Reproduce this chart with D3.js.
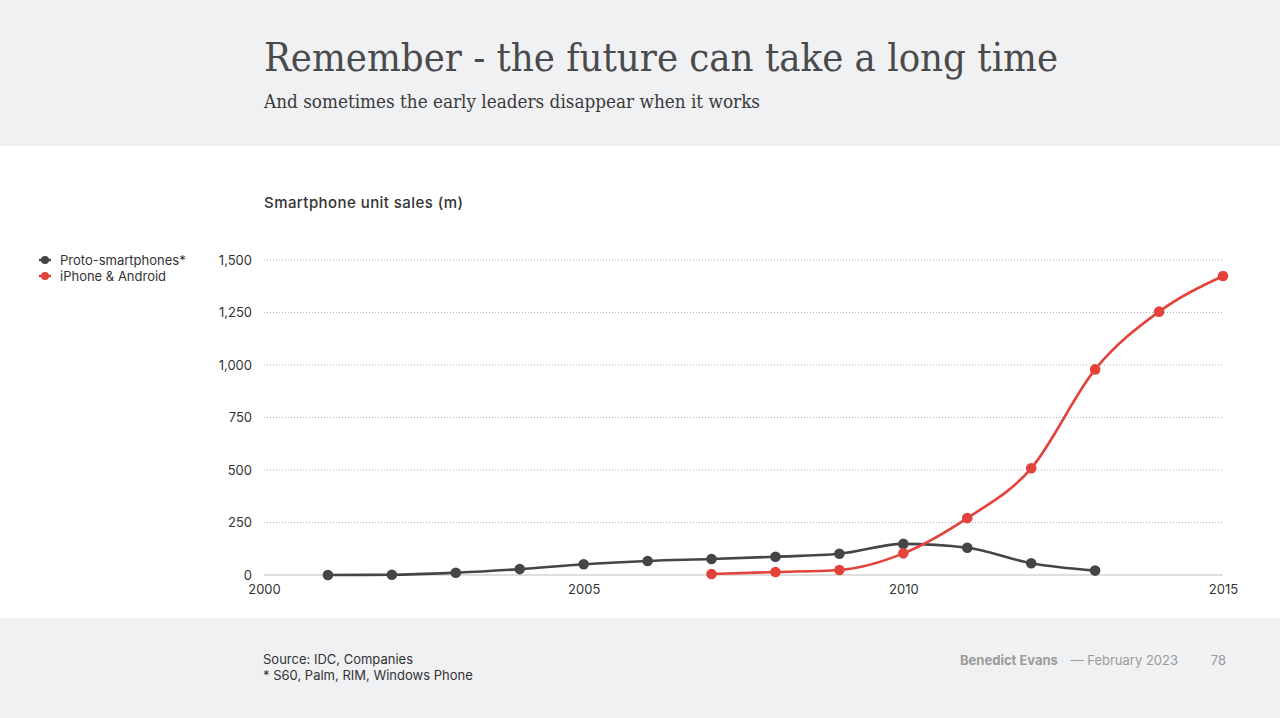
<!DOCTYPE html>
<html><head><meta charset="utf-8">
<script src="https://cdn.jsdelivr.net/npm/d3@7"></script>
<style>
html,body{margin:0;padding:0;background:#fff;}
svg{display:block;}
</style></head>
<body>
<svg id="c" width="1280" height="718"></svg>
<script>
const years = [2001,2002,2003,2004,2005,2006,2007,2008,2009,2010,2011,2012,2013,2014,2015];
const protoYears = [2001,2002,2003,2004,2005,2006,2007,2008,2009,2010,2011,2012,2013];
const protoValues = [0,1,11,28,51,67,76,87,101,148,130,56,21];
const modernYears = [2007,2008,2009,2010,2011,2012,2013,2014,2015];
const modernValues = [5,14,24,103,271,508,979,1254,1424];
const yTicks = [0,250,500,750,1000,1250,1500];
const xTicks = [2000,2005,2010,2015];
const seriesNames = ["Proto-smartphones*","iPhone & Android"];
const seriesColors = ["#444546","#e4433b"];

const svg = d3.select("#c");
const sans = "Inter, 'Noto Sans', 'Liberation Sans', sans-serif";
const serif = "'DejaVu Serif Condensed','DejaVu Serif', serif";

// backgrounds
svg.append("rect").attr("x",0).attr("y",0).attr("width",1280).attr("height",146).attr("fill","#f0f1f3");
svg.append("rect").attr("x",0).attr("y",618).attr("width",1280).attr("height",100).attr("fill","#f0f1f3");

svg.append("text").attr("x",264).attr("y",71).attr("font-family",serif).attr("font-size",39)
  .attr("fill","#4a4a4c").attr("textLength",794).attr("lengthAdjust","spacingAndGlyphs")
  .text("Remember - the future can take a long time");
svg.append("text").attr("x",264).attr("y",108).attr("font-family",serif).attr("font-size",18)
  .attr("fill","#3a3a3c").attr("textLength",496).attr("lengthAdjust","spacingAndGlyphs")
  .text("And sometimes the early leaders disappear when it works");

svg.append("text").attr("x",264).attr("y",208).attr("font-family",sans).attr("font-size",15)
  .attr("font-weight",500).attr("fill","#333").attr("textLength",199).attr("lengthAdjust","spacing")
  .text("Smartphone unit sales (m)");

const x = d3.scaleLinear().domain([2000,2015]).range([264,1223]);
const y = d3.scaleLinear().domain([0,1500]).range([575,260]);

// grid
const g = svg.append("g");
g.selectAll("line.grid").data(yTicks.filter(d=>d>0)).join("line")
  .attr("x1",264).attr("x2",1223).attr("y1",d=>y(d)).attr("y2",d=>y(d))
  .attr("stroke","#9a9a9a").attr("stroke-width",0.8).attr("stroke-dasharray","1,2");
g.append("line").attr("x1",264).attr("x2",1223).attr("y1",y(0)).attr("y2",y(0))
  .attr("stroke","#bdbdbd").attr("stroke-width",1.2);

// y axis
const yAxis = svg.append("g").attr("transform","translate(252,0)")
  .call(d3.axisLeft(y).tickValues(yTicks).tickSize(0).tickPadding(0).tickFormat(d3.format(",")));
yAxis.select(".domain").remove();
yAxis.selectAll("text").attr("font-family",sans).attr("font-size",13).attr("fill","#333");

// x axis
const xAxis = svg.append("g").attr("transform","translate(0,585)")
  .call(d3.axisBottom(x).tickValues(xTicks).tickSize(0).tickPadding(0).tickFormat(d3.format("d")));
xAxis.select(".domain").remove();
xAxis.selectAll("text").attr("font-family",sans).attr("font-size",13).attr("fill","#333");

const line = d3.line().x(d=>x(d[0])).y(d=>y(d[1])).curve(d3.curveMonotoneX);
const series = [
  d3.zip(protoYears, protoValues),
  d3.zip(modernYears, modernValues)
];
series.forEach((s,i)=>{
  svg.append("path").datum(s).attr("d",line).attr("fill","none")
    .attr("stroke",seriesColors[i]).attr("stroke-width",2.6);
  svg.append("g").selectAll("circle").data(s).join("circle")
    .attr("cx",d=>x(d[0])).attr("cy",d=>y(d[1])).attr("r",5.3).attr("fill",seriesColors[i]);
});

// legend
seriesNames.forEach((n,i)=>{
  const ly = 260 + i*16;
  svg.append("line").attr("x1",39).attr("x2",51).attr("y1",ly).attr("y2",ly)
    .attr("stroke",seriesColors[i]).attr("stroke-width",2.4);
  svg.append("circle").attr("cx",45).attr("cy",ly).attr("r",4).attr("fill",seriesColors[i]);
  svg.append("text").attr("x",60).attr("y",ly+4.5).attr("font-family",sans).attr("font-size",13)
    .attr("fill","#333").text(n);
});

// footer
svg.append("text").attr("x",263).attr("y",664).attr("font-family",sans).attr("font-size",13)
  .attr("fill","#333").text("Source: IDC, Companies");
svg.append("text").attr("x",263).attr("y",680).attr("font-family",sans).attr("font-size",13)
  .attr("fill","#333").text("* S60, Palm, RIM, Windows Phone");
svg.append("text").attr("x",960).attr("y",665).attr("font-family",sans).attr("font-size",13)
  .attr("font-weight",700).attr("fill","#9a9a9a").text("Benedict Evans");
svg.append("text").attr("x",1178).attr("y",665).attr("text-anchor","end")
  .attr("font-family",sans).attr("font-size",13).attr("fill","#9a9a9a").text("––  February 2023");
svg.append("text").attr("x",1226).attr("y",665).attr("text-anchor","end").attr("font-family",sans)
  .attr("font-size",13).attr("fill","#9a9a9a").text("78");
</script>
</body></html>
